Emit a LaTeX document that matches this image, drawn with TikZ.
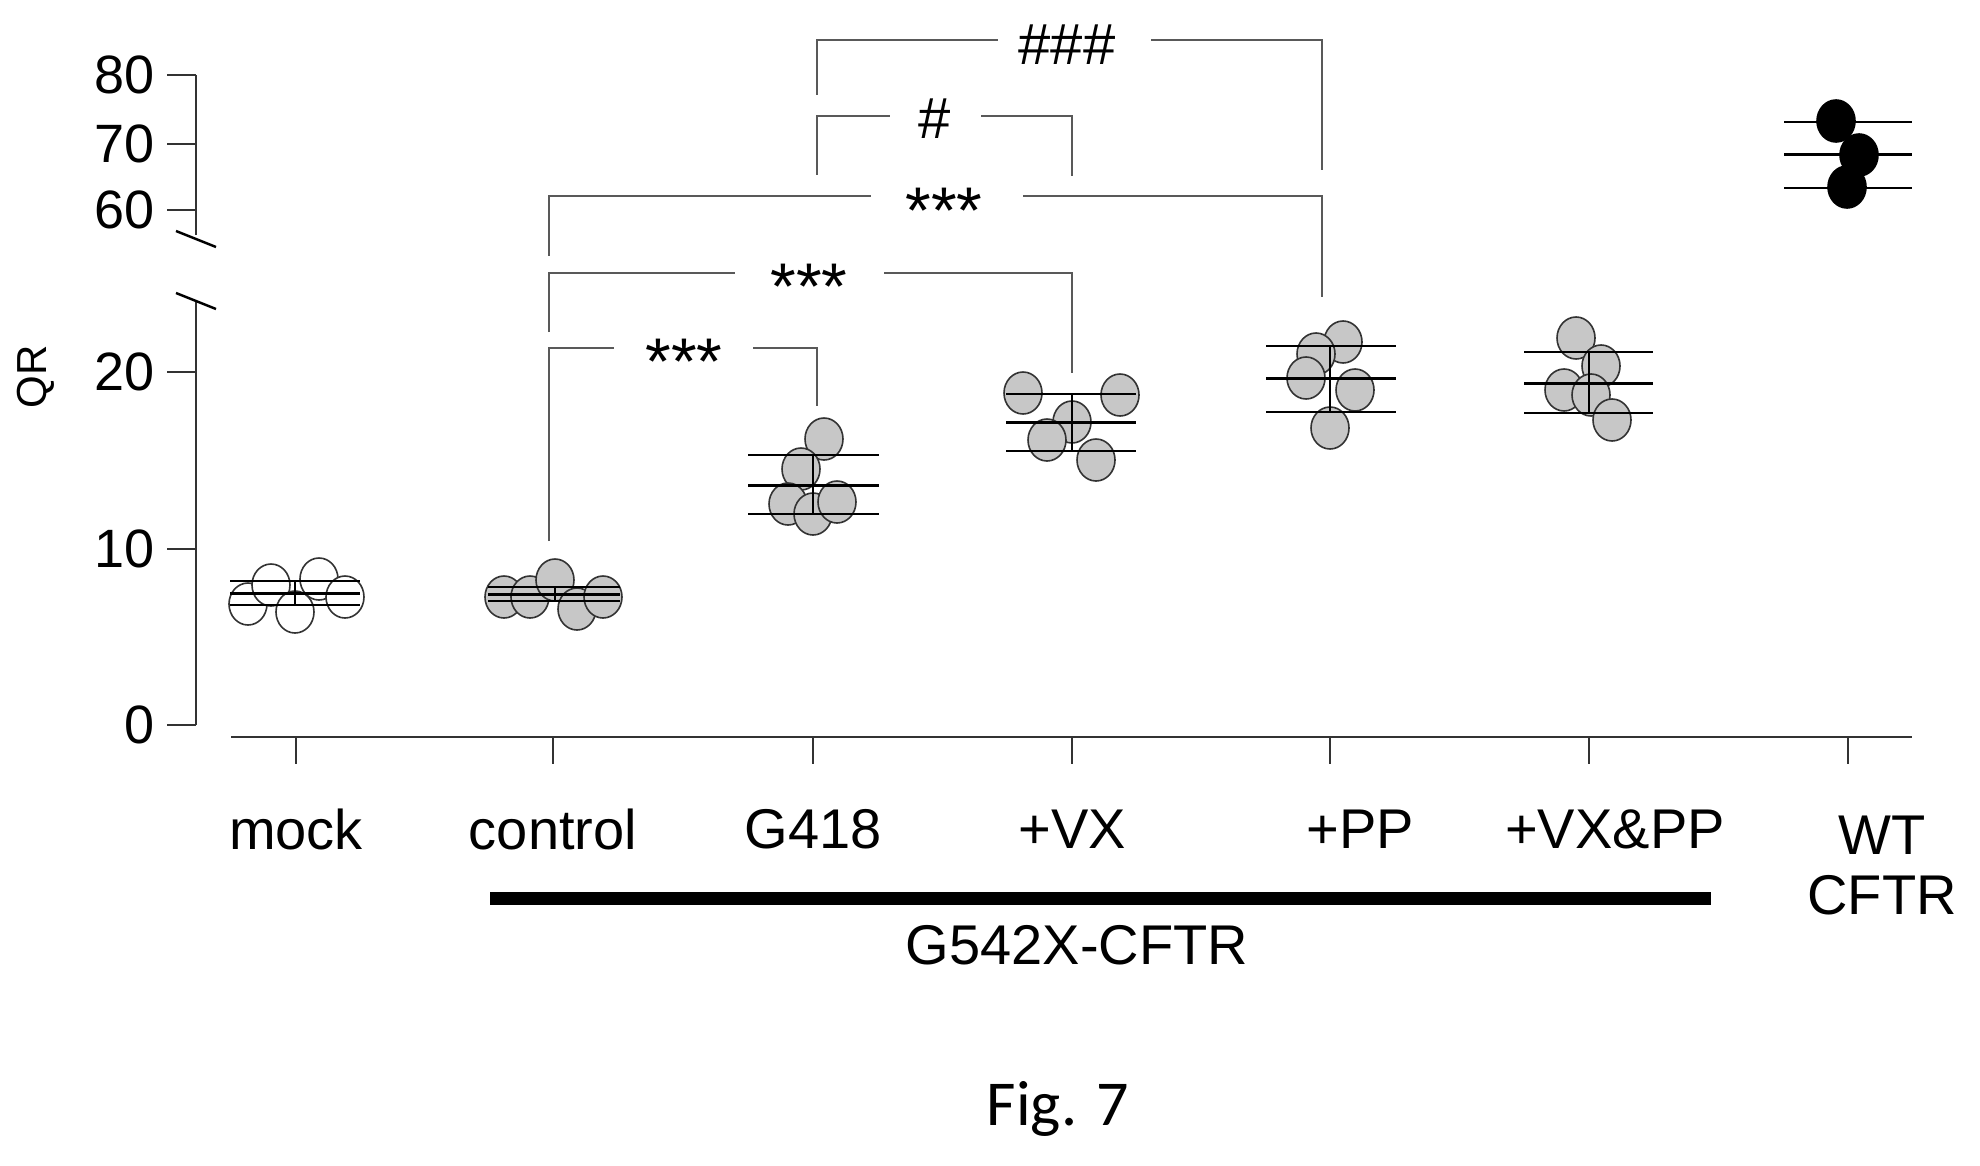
\documentclass[tikz,border=0pt]{standalone}
\usepackage{fontspec}
\setmainfont{Liberation Sans}
\newfontfamily\figfont{Carlito}
\begin{document}
\begin{tikzpicture}[x=1pt,y=-1pt,
  ax/.style={line width=1.6pt,black!80},
  br/.style={line width=1.4pt,black!65},
  mean/.style={line width=3pt},
  sd/.style={line width=2pt},
  ptg/.style={draw=black!80,line width=1.6pt,fill=black!22},
  ptw/.style={draw=black!80,line width=1.6pt,fill=white},
  ptb/.style={draw=black,line width=1.6pt,fill=black},
  lab/.style={font=\fontsize{56}{60}\selectfont},
  num/.style={font=\fontsize{54}{58}\selectfont,anchor=east},
  star/.style={font=\fontsize{66}{66}\selectfont}]
\useasboundingbox (0,0) rectangle (1980,1166);
% y axis
\draw[ax] (196,75) -- (196,235);
\draw[ax] (196,302) -- (196,725);
\foreach \y/\t in {75/80,144/70,210/60,372/20,549/10,725/0}{
  \draw[ax] (167,\y) -- (196,\y);
  \node[num] (n\t) at (158,\y) {\t};
}
\draw[line width=2.5pt] (176,231) -- (216,247);
\draw[line width=2.5pt] (176,293) -- (216,309);
\node[font=\fontsize{42}{44}\selectfont,rotate=90] (qr) at (36,377) {QR};
% x axis
\draw[ax] (231,737) -- (1912,737);
\foreach \x in {296,553,813,1072,1330,1589,1848} \draw[ax] (\x,737) -- (\x,764);
\node[lab] (l1) at (296,829) {mock};
\node[lab] (l2) at (553,829) {control};
\node[lab] (l3) at (813,829) {G418};
\node[lab] (l4) at (1072,829) {+VX};
\node[lab] (l5) at (1360,829) {+PP};
\node[lab] (l6) at (1615,829) {+VX\&PP};
\node[lab,align=center] (l7) at (1882,866) {WT\\CFTR};
\draw[line width=13pt] (490,898) -- (1711,898);
\node[lab] (g) at (1077,945) {G542X-CFTR};
\node[font=\figfont\fontsize{64}{66}\selectfont] (fig) at (1058,1109) {Fig. 7};
% brackets
\draw[br] (549,541) -- (549,348) -- (614,348);
\draw[br] (753,348) -- (817,348) -- (817,406);
\node[star] (s1) at (684,362) {***};
\draw[br] (549,332) -- (549,273) -- (735,273);
\draw[br] (884,273) -- (1072,273) -- (1072,373);
\node[star] (s2) at (809,287) {***};
\draw[br] (549,256) -- (549,196) -- (871,196);
\draw[br] (1023,196) -- (1322,196) -- (1322,297);
\node[star] (s3) at (944,211) {***};
\draw[br] (817,175) -- (817,116) -- (890,116);
\draw[br] (981,116) -- (1072,116) -- (1072,176);
\node[font=\fontsize{58}{60}\selectfont] (h1) at (935,119) {\#};
\draw[br] (817,95) -- (817,40) -- (998,40);
\draw[br] (1151,40) -- (1322,40) -- (1322,170);
\node[font=\fontsize{58}{60}\selectfont] (h3) at (1067,45) {\#\#\#};
% data
\foreach \x/\y in {248/604,271/585,295/612,319/579,345/597} \draw[ptw] (\x,\y) ellipse [x radius=19,y radius=21];
\foreach \x/\y in {504/597,530/597,555/580,577/609,603/597,
  824/439,801/469,788/504,813/514,837/502,
  1023/393,1072/422,1047/440,1120/395,1096/460,
  1343/342,1316/354,1306/378,1355/390,1330/428,
  1576/338,1601/366,1564/390,1591/395,1612/420}
  \draw[ptg] (\x,\y) ellipse [x radius=19,y radius=21];
\foreach \x/\y in {1836/121,1859/155,1847/187} \draw[ptb] (\x,\y) ellipse [x radius=19,y radius=21];
% mean and sd
\foreach \a/\b/\c/\m/\s/\t in {230/360/295/593/581/605, 488/620/555/594/587/601,
  748/879/813/485/455/514, 1006/1136/1072/422/394/451, 1266/1396/1330/378/346/412,
  1524/1653/1589/383/352/413, 1784/1912/1848/155/122/188}{
  \draw[mean] (\a,\m) -- (\b,\m);
  \draw[sd] (\a,\s) -- (\b,\s);
  \draw[sd] (\a,\t) -- (\b,\t);
  \draw[line width=1.8pt] (\c,\s) -- (\c,\t);
}
\end{tikzpicture}
\end{document}
